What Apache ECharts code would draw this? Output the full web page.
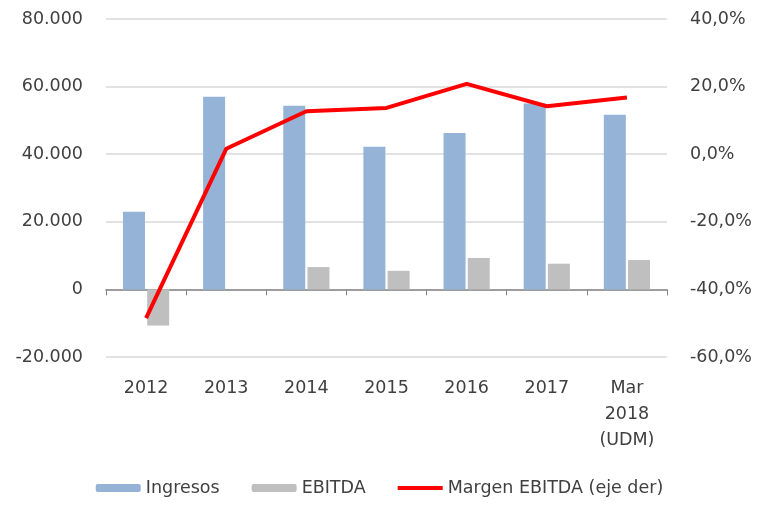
<!DOCTYPE html>
<html>
<head>
<meta charset="utf-8">
<script src="https://cdn.jsdelivr.net/npm/echarts@6/dist/echarts.min.js"></script>
<style>
  html, body { margin: 0; padding: 0; background: #fff; }
  #chart { width: 759px; height: 510px; }
</style>
</head>
<body>
<div id="chart"></div>
<script>
// datos del gráfico
const categorias = ['2012', '2013', '2014', '2015', '2016', '2017', 'Mar\n2018\n(UDM)']
const ingresos = [23000, 57000, 54300, 42200, 46300, 55000, 51700]
const ebitda = [-10700, 0, 6600, 5500, 9300, 7600, 8700]
const margenEbitda = [-48.5, 1.6, 12.7, 13.7, 20.8, 14.2, 16.8] // en %
const ticksIzq = [-20000, 80000, 20000] // min, max, intervalo
const ticksDer = [-60, 40, 20]

const fuente = 'DejaVu Sans'
const colorTexto = '#404040'
const tamTexto = 17.5

// 80000 -> 80.000
const fmtMiles = (v) => {
  const s = Math.abs(v).toString().replace(/\B(?=(\d{3})+(?!\d))/g, '.')
  return (v < 0 ? '-' : '') + s
}
// 20 -> 20,0%
const fmtPct = (v) => v.toFixed(1).replace('.', ',') + '%'

const myEchart = echarts.init(document.getElementById('chart'))
const option = {
  animation: false,
  textStyle: { fontFamily: fuente },
  grid: {
    left: 106,
    right: 92,
    top: 19,
    bottom: 153
  },
  legend: {
    bottom: 8,
    left: 'center',
    itemWidth: 45,
    itemHeight: 8,
    itemGap: 32,
    textStyle: { fontFamily: fuente, fontSize: tamTexto, color: colorTexto },
    data: [
      'Ingresos',
      'EBITDA',
      // icono de linea sin punto
      { name: 'Margen EBITDA (eje der)', icon: 'path://M0,0L45,0L45,4L0,4Z' }
    ]
  },
  xAxis: [
    {
      // eje en el cero, solo linea y marcas
      type: 'category',
      position: 'bottom',
      data: categorias,
      axisLine: { onZero: true, onZeroAxisIndex: 0, lineStyle: { color: '#868686', width: 1.5 } },
      axisTick: { show: true, length: 6, lineStyle: { color: '#868686' } },
      axisLabel: { show: false }
    },
    {
      // etiquetas abajo del area
      type: 'category',
      position: 'bottom',
      data: categorias,
      axisLine: { show: false, onZero: false },
      axisTick: { show: false },
      splitLine: { show: false },
      axisLabel: {
        margin: 18,
        fontFamily: fuente,
        fontSize: tamTexto,
        color: colorTexto,
        lineHeight: 26
      }
    }
  ],
  yAxis: [
    {
      type: 'value',
      min: ticksIzq[0],
      max: ticksIzq[1],
      interval: ticksIzq[2],
      axisLine: { show: false },
      axisTick: { show: false },
      splitLine: { lineStyle: { color: '#D9D9D9', width: 1.5 } },
      axisLabel: {
        margin: 23,
        fontFamily: fuente,
        fontSize: tamTexto,
        color: colorTexto,
        formatter: fmtMiles
      }
    },
    {
      type: 'value',
      position: 'right',
      min: ticksDer[0],
      max: ticksDer[1],
      interval: ticksDer[2],
      axisLine: { show: false },
      axisTick: { show: false },
      splitLine: { show: false },
      axisLabel: {
        margin: 23,
        fontFamily: fuente,
        fontSize: tamTexto,
        color: colorTexto,
        formatter: fmtPct
      }
    }
  ],
  series: [
    {
      name: 'Ingresos',
      type: 'bar',
      xAxisIndex: 0,
      yAxisIndex: 0,
      barWidth: 22,
      barGap: '10%',
      itemStyle: { color: '#95B3D7' },
      data: ingresos
    },
    {
      name: 'EBITDA',
      type: 'bar',
      xAxisIndex: 0,
      yAxisIndex: 0,
      barWidth: 22,
      barGap: '10%',
      itemStyle: { color: '#BFBFBF' },
      data: ebitda
    },
    {
      name: 'Margen EBITDA (eje der)',
      type: 'line',
      xAxisIndex: 0,
      yAxisIndex: 1,
      symbol: 'none',
      z: 5,
      itemStyle: { color: '#FF0000' },
      lineStyle: { color: '#FF0000', width: 4 },
      data: margenEbitda
    }
  ]
}
myEchart.setOption(option)
</script>
</body>
</html>
